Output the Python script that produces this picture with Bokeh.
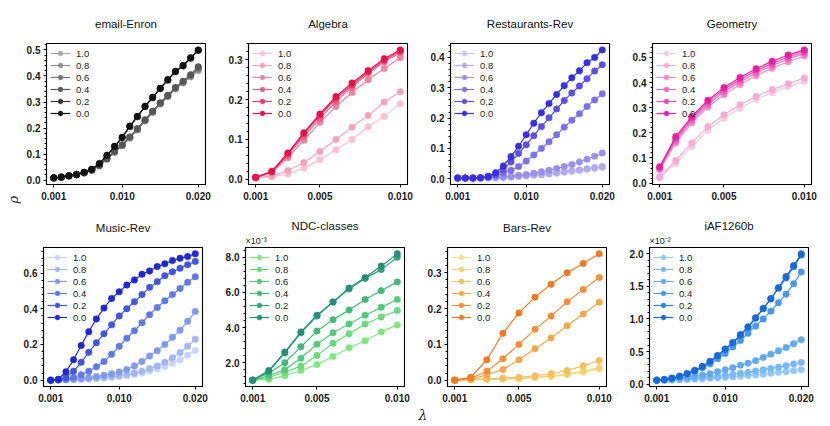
from bokeh.plotting import figure
from bokeh.models import Range1d, FixedTicker, Legend, LegendItem, Title, NumeralTickFormatter
from bokeh.layouts import column, row
from bokeh.embed import file_html
from bokeh.resources import INLINE

# ---------------- data ----------------
SERIES_LABELS = ["1.0", "0.8", "0.6", "0.4", "0.2", "0.0"]

X20 = [0.001, 0.002, 0.003, 0.004, 0.005, 0.006, 0.007, 0.008, 0.009, 0.010,
       0.011, 0.012, 0.013, 0.014, 0.015, 0.016, 0.017, 0.018, 0.019, 0.020]
X10 = [0.001, 0.002, 0.003, 0.004, 0.005, 0.006, 0.007, 0.008, 0.009, 0.010]

XTICKS_20 = [0.001, 0.010, 0.020]
XTICKS_10 = [0.001, 0.005, 0.010]

# order of inner lists follows SERIES_LABELS: 1.0, 0.8, 0.6, 0.4, 0.2, 0.0
ENRON = [
    [0.008, 0.011, 0.016, 0.021, 0.028, 0.038, 0.055, 0.080, 0.107, 0.132, 0.162, 0.193, 0.227, 0.260, 0.292, 0.320, 0.350, 0.373, 0.396, 0.420],
    [0.008, 0.011, 0.016, 0.021, 0.028, 0.038, 0.055, 0.081, 0.108, 0.133, 0.163, 0.194, 0.228, 0.261, 0.293, 0.322, 0.352, 0.375, 0.399, 0.425],
    [0.008, 0.011, 0.016, 0.021, 0.028, 0.038, 0.056, 0.082, 0.109, 0.134, 0.164, 0.196, 0.230, 0.263, 0.295, 0.324, 0.354, 0.377, 0.402, 0.430],
    [0.008, 0.011, 0.016, 0.021, 0.029, 0.039, 0.057, 0.083, 0.110, 0.136, 0.166, 0.198, 0.232, 0.265, 0.297, 0.326, 0.356, 0.380, 0.405, 0.435],
    [0.009, 0.012, 0.017, 0.022, 0.030, 0.041, 0.062, 0.094, 0.128, 0.163, 0.205, 0.243, 0.282, 0.316, 0.351, 0.384, 0.416, 0.438, 0.468, 0.498],
    [0.009, 0.012, 0.017, 0.022, 0.030, 0.042, 0.064, 0.096, 0.130, 0.165, 0.208, 0.245, 0.284, 0.318, 0.353, 0.386, 0.418, 0.440, 0.470, 0.500],
]
ALGEBRA = [
    [0.003, 0.006, 0.013, 0.028, 0.050, 0.074, 0.100, 0.132, 0.158, 0.190],
    [0.004, 0.008, 0.022, 0.042, 0.070, 0.100, 0.131, 0.160, 0.194, 0.220],
    [0.004, 0.016, 0.054, 0.098, 0.143, 0.183, 0.218, 0.250, 0.278, 0.305],
    [0.004, 0.018, 0.060, 0.108, 0.153, 0.195, 0.232, 0.266, 0.295, 0.318],
    [0.005, 0.019, 0.064, 0.114, 0.160, 0.203, 0.237, 0.270, 0.299, 0.322],
    [0.005, 0.020, 0.066, 0.117, 0.164, 0.208, 0.242, 0.273, 0.303, 0.325],
]
RESTAURANTS = [
    [0.002, 0.002, 0.002, 0.002, 0.003, 0.003, 0.004, 0.005, 0.007, 0.009, 0.011, 0.013, 0.015, 0.018, 0.021, 0.024, 0.027, 0.030, 0.034, 0.037],
    [0.002, 0.002, 0.002, 0.002, 0.003, 0.004, 0.005, 0.006, 0.008, 0.010, 0.012, 0.014, 0.017, 0.020, 0.023, 0.026, 0.029, 0.033, 0.037, 0.040],
    [0.002, 0.002, 0.002, 0.002, 0.003, 0.004, 0.006, 0.008, 0.011, 0.014, 0.018, 0.023, 0.028, 0.034, 0.040, 0.047, 0.055, 0.064, 0.074, 0.085],
    [0.002, 0.002, 0.002, 0.003, 0.005, 0.010, 0.018, 0.028, 0.040, 0.058, 0.078, 0.100, 0.122, 0.145, 0.170, 0.193, 0.214, 0.238, 0.260, 0.280],
    [0.002, 0.002, 0.002, 0.003, 0.006, 0.015, 0.030, 0.055, 0.083, 0.112, 0.142, 0.172, 0.201, 0.230, 0.258, 0.283, 0.306, 0.330, 0.355, 0.376],
    [0.002, 0.002, 0.002, 0.003, 0.008, 0.020, 0.042, 0.073, 0.107, 0.145, 0.183, 0.218, 0.248, 0.278, 0.307, 0.333, 0.356, 0.383, 0.400, 0.425],
]
GEOMETRY = [
    [0.020, 0.078, 0.145, 0.210, 0.258, 0.298, 0.333, 0.360, 0.384, 0.405],
    [0.025, 0.090, 0.160, 0.225, 0.272, 0.312, 0.345, 0.372, 0.395, 0.418],
    [0.053, 0.160, 0.240, 0.303, 0.352, 0.392, 0.427, 0.457, 0.483, 0.506],
    [0.058, 0.170, 0.250, 0.313, 0.363, 0.403, 0.438, 0.468, 0.494, 0.516],
    [0.062, 0.178, 0.258, 0.322, 0.372, 0.412, 0.447, 0.477, 0.502, 0.524],
    [0.065, 0.185, 0.265, 0.330, 0.380, 0.420, 0.455, 0.485, 0.510, 0.530],
]
MUSIC = [
    [0.000, 0.001, 0.002, 0.003, 0.004, 0.006, 0.008, 0.011, 0.015, 0.020, 0.025, 0.032, 0.040, 0.050, 0.062, 0.077, 0.095, 0.115, 0.140, 0.167],
    [0.000, 0.001, 0.002, 0.004, 0.006, 0.008, 0.011, 0.015, 0.020, 0.025, 0.032, 0.040, 0.050, 0.065, 0.080, 0.100, 0.125, 0.155, 0.190, 0.230],
    [0.000, 0.001, 0.003, 0.006, 0.010, 0.015, 0.020, 0.027, 0.036, 0.046, 0.060, 0.080, 0.105, 0.135, 0.165, 0.200, 0.240, 0.280, 0.330, 0.385],
    [0.000, 0.002, 0.005, 0.015, 0.030, 0.050, 0.075, 0.104, 0.145, 0.190, 0.235, 0.277, 0.322, 0.367, 0.407, 0.445, 0.480, 0.514, 0.548, 0.580],
    [0.000, 0.003, 0.015, 0.050, 0.100, 0.156, 0.210, 0.260, 0.310, 0.360, 0.400, 0.440, 0.480, 0.520, 0.552, 0.585, 0.607, 0.627, 0.647, 0.665],
    [0.000, 0.005, 0.047, 0.114, 0.194, 0.272, 0.343, 0.404, 0.458, 0.495, 0.533, 0.562, 0.594, 0.612, 0.637, 0.652, 0.670, 0.683, 0.693, 0.708],
]
NDC = [  # x 1e-3
    [1.00, 1.05, 1.25, 1.55, 1.90, 2.35, 2.85, 3.25, 3.75, 4.15],
    [1.00, 1.15, 1.45, 1.80, 2.40, 3.10, 3.65, 4.20, 4.60, 4.97],
    [1.00, 1.25, 1.60, 2.25, 3.05, 3.70, 4.20, 4.70, 5.15, 5.60],
    [1.00, 1.40, 2.00, 2.90, 3.80, 4.45, 5.00, 5.60, 6.10, 6.60],
    [1.00, 1.50, 2.55, 3.70, 4.65, 5.45, 6.20, 6.80, 7.30, 8.00],
    [1.00, 1.55, 2.60, 3.75, 4.70, 5.45, 6.25, 6.85, 7.50, 8.20],
]
BARS = [
    [0.000, 0.001, 0.002, 0.003, 0.004, 0.007, 0.010, 0.015, 0.022, 0.031],
    [0.000, 0.001, 0.002, 0.003, 0.005, 0.008, 0.012, 0.018, 0.025, 0.035],
    [0.000, 0.002, 0.004, 0.006, 0.008, 0.012, 0.018, 0.027, 0.040, 0.055],
    [0.000, 0.003, 0.015, 0.030, 0.057, 0.088, 0.118, 0.152, 0.185, 0.218],
    [0.000, 0.005, 0.025, 0.060, 0.100, 0.142, 0.179, 0.219, 0.253, 0.287],
    [0.000, 0.008, 0.057, 0.131, 0.188, 0.232, 0.268, 0.300, 0.326, 0.353],
]
IAF = [  # x 1e-2
    [0.06, 0.06, 0.062, 0.066, 0.07, 0.075, 0.08, 0.09, 0.095, 0.10, 0.11, 0.12, 0.13, 0.14, 0.15, 0.165, 0.18, 0.19, 0.205, 0.22],
    [0.06, 0.06, 0.065, 0.07, 0.08, 0.09, 0.10, 0.11, 0.12, 0.135, 0.15, 0.165, 0.18, 0.20, 0.22, 0.24, 0.26, 0.28, 0.31, 0.33],
    [0.06, 0.065, 0.075, 0.09, 0.10, 0.12, 0.14, 0.16, 0.19, 0.22, 0.25, 0.29, 0.32, 0.36, 0.41, 0.46, 0.51, 0.56, 0.62, 0.68],
    [0.06, 0.07, 0.09, 0.115, 0.15, 0.19, 0.25, 0.31, 0.39, 0.47, 0.57, 0.67, 0.78, 0.89, 1.00, 1.12, 1.25, 1.38, 1.54, 1.72],
    [0.06, 0.07, 0.09, 0.12, 0.16, 0.21, 0.27, 0.34, 0.43, 0.53, 0.63, 0.75, 0.87, 1.01, 1.16, 1.31, 1.47, 1.63, 1.80, 1.98],
    [0.06, 0.07, 0.09, 0.12, 0.16, 0.21, 0.27, 0.35, 0.44, 0.54, 0.64, 0.76, 0.88, 1.02, 1.16, 1.31, 1.48, 1.65, 1.82, 2.00],
]

# ---------------- styles ----------------
PAL_GRAY = ["#a9a9a9", "#8f8f8f", "#767676", "#575757", "#353535", "#111111"]
PAL_RED = ["#f8c2d1", "#f5a3ba", "#f283a2", "#ee6189", "#ea3b6b", "#e5124c"]
PAL_VIOLET = ["#cbc6f5", "#b2abf1", "#9890ec", "#7c72e8", "#5c50e3", "#3a2fde"]
PAL_MAGENTA = ["#f8c8e4", "#f5aad8", "#f28acc", "#ee6ac0", "#eb48b3", "#e620a6"]
PAL_BLUE = ["#c6d5f8", "#a3b7f3", "#819aec", "#607ae4", "#4056db", "#2029cf"]
PAL_GREEN = ["#7fe77f", "#67da79", "#52cb79", "#42b87a", "#33a47a", "#25907a"]
PAL_ORANGE = ["#f6e08c", "#f5d073", "#f4bf60", "#f3a84e", "#f2903a", "#ef7a22"]
PAL_SKY = ["#93c9f8", "#7ab9f5", "#62a9f1", "#4997eb", "#3181e0", "#1b69d6"]

FONT = "Liberation Sans"

panels = [
    ("email-Enron", X20, ENRON, PAL_GRAY, XTICKS_20, [0.0, 0.1, 0.2, 0.3, 0.4, 0.5], None),
    ("Algebra", X10, ALGEBRA, PAL_RED, XTICKS_10, [0.0, 0.1, 0.2, 0.3], None),
    ("Restaurants-Rev", X20, RESTAURANTS, PAL_VIOLET, XTICKS_20, [0.0, 0.1, 0.2, 0.3, 0.4], None),
    ("Geometry", X10, GEOMETRY, PAL_MAGENTA, XTICKS_10, [0.0, 0.1, 0.2, 0.3, 0.4, 0.5], None),
    ("Music-Rev", X20, MUSIC, PAL_BLUE, XTICKS_20, [0.0, 0.2, 0.4, 0.6], None),
    ("NDC-classes", X10, NDC, PAL_GREEN, XTICKS_10, [2.0, 4.0, 6.0, 8.0], "×10⁻³"),
    ("Bars-Rev", X10, BARS, PAL_ORANGE, XTICKS_10, [0.0, 0.1, 0.2, 0.3], None),
    ("iAF1260b", X20, IAF, PAL_SKY, XTICKS_20, [0.0, 0.5, 1.0, 1.5, 2.0], "×10⁻²"),
]

FW = 159
BR = 8
ROW_CFG = [(43, 141, 21), (42, 139, 32)]


def padded(lo, hi, frac=0.05):
    d = (hi - lo) * frac
    return lo - d, hi + d


figs = []
for i, (title, xs, ys, pal, xticks, yticks, expo) in enumerate(panels):
    top, fh, bot = ROW_CFG[i // 4]
    bl = 43 if i % 4 == 0 else 35
    x0, x1 = padded(min(xs), max(xs))
    allv = [v for s in ys for v in s]
    y0, y1 = padded(min(allv), max(allv))
    p = figure(frame_width=FW, frame_height=fh, min_border_left=bl, min_border_right=BR,
               min_border_top=top, min_border_bottom=bot,
               x_range=Range1d(x0, x1), y_range=Range1d(y0, y1),
               output_backend="svg", toolbar_location=None)
    p.title_location = None
    if expo:
        p.add_layout(Title(text=expo, align="left", offset=0, standoff=4,
                           text_font=FONT, text_font_size="9px", text_font_style="normal",
                           text_color="#222222"), "above")
        p.add_layout(Title(text=title, align="center", standoff=0,
                           text_font=FONT, text_font_size="11.5px", text_font_style="normal",
                           text_color="#111111"), "above")
    else:
        p.add_layout(Title(text=title, align="center", standoff=28,
                           text_font=FONT, text_font_size="11.5px", text_font_style="normal",
                           text_color="#111111"), "above")
    p.grid.visible = False
    p.outline_line_color = "black"
    p.outline_line_width = 1.1
    p.outline_line_alpha = 1.0
    p.background_fill_color = "white"
    p.border_fill_color = "white"

    step = yticks[1] - yticks[0]
    minors = []
    t = yticks[0] - step
    while t <= y1 + 1e-9:
        for k in range(1, 5):
            v = t + step * k / 5
            if y0 <= v <= y1:
                minors.append(v)
        t += step
    p.yaxis.ticker = FixedTicker(ticks=yticks, minor_ticks=minors)
    p.xaxis.ticker = FixedTicker(ticks=xticks)
    p.xaxis.formatter = NumeralTickFormatter(format="0.000")
    p.yaxis.formatter = NumeralTickFormatter(format="0.0")
    for ax in (p.xaxis, p.yaxis):
        ax.axis_line_color = "black"
        ax.axis_line_width = 1.1
        ax.major_tick_line_color = "black"
        ax.major_tick_in = 0
        ax.major_tick_out = 3
        ax.minor_tick_line_color = "black"
        ax.minor_tick_in = 0
        ax.minor_tick_out = 2
        ax.major_label_text_font = FONT
        ax.major_label_text_font_size = "10px"
        ax.major_label_text_font_style = "bold"
        ax.major_label_text_color = "#1a1a1a"
    p.xaxis.major_label_standoff = 4
    p.yaxis.major_label_standoff = 3

    items = []
    for lab, ser, col in zip(SERIES_LABELS, ys, pal):
        rl = p.line(xs, ser, line_color=col, line_width=1.2)
        rs = p.scatter(xs, ser, size=6.5, fill_color=col, line_color=col, line_width=0.5)
        items.append(LegendItem(label=lab, renderers=[rl, rs]))
    leg = Legend(items=items, location="top_left")
    leg.border_line_color = None
    leg.background_fill_alpha = 0
    leg.glyph_width = 20
    leg.glyph_height = 12
    leg.label_height = 12
    leg.spacing = 0
    leg.padding = 2
    leg.margin = 4
    leg.label_standoff = 6
    leg.label_text_font = FONT
    leg.label_text_font_size = "9.5px"
    leg.label_text_color = "#222222"
    p.add_layout(leg)
    figs.append(p)

# shared axis symbols (outside the frames, as side titles)
figs[0].add_layout(Title(text="ρ", align="left", offset=-19, standoff=6,
                         text_font="DejaVu Serif", text_font_style="italic", text_font_size="13px",
                         text_color="#222222"), "left")
figs[6].add_layout(Title(text="λ", align="left", offset=-29, standoff=0,
                         text_font="DejaVu Serif", text_font_style="italic", text_font_size="14px",
                         text_color="#222222"), "below")

layout = column(row(*figs[:4]), row(*figs[4:]))
open("out.html", "w").write(file_html(layout, INLINE))
